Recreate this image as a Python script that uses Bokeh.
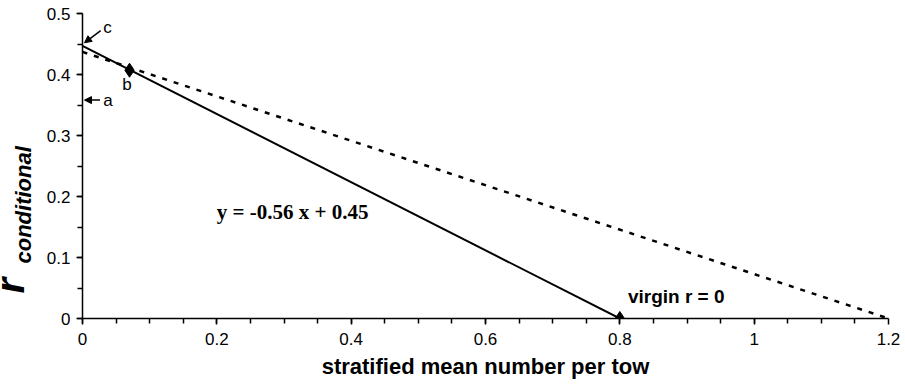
import math
from bokeh.plotting import figure
from bokeh.layouts import row
from bokeh.models import Label, Arrow, NormalHead, FixedTicker, Range1d
from bokeh.embed import file_html
from bokeh.resources import INLINE

# Data
solid_x = [0.0, 0.8]
solid_y = [0.447, 0.0]
dashed_x = [0.0, 1.2]
dashed_y = [0.437, 0.0]
point_x = [0.07, 0.8]
point_y = [0.407, 0.0]

x_ticks = [0, 0.2, 0.4, 0.6, 0.8, 1.0, 1.2]
x_tick_labels = ["0", "0.2", "0.4", "0.6", "0.8", "1", "1.2"]
y_ticks = [0, 0.1, 0.2, 0.3, 0.4, 0.5]
y_tick_labels = ["0", "0.1", "0.2", "0.3", "0.4", "0.5"]
x_minor = [i * 0.05 for i in range(25)]
y_minor = [i * 0.05 for i in range(11)]

equation = "y = -0.56 x + 0.45"
y_label_main = "r"
y_label_sub = "conditional"
x_label = "stratified mean number per tow"

FONT = "Liberation Sans"
LW = 40   # width of the y-label strip
H = 384
FRAME_H = 318 - 13   # frame height shared by both figures (frames are aligned in a row)

# Narrow strip holding the y-axis label (r with subscript); its frame is
# aligned with the main plot frame, so y is in pixels above the frame bottom.
fl = figure(width=LW, height=H, output_backend="svg", toolbar_location=None,
            x_range=Range1d(0, LW), y_range=Range1d(0, FRAME_H),
            x_axis_type=None, y_axis_type=None, min_border=0)
fl.outline_line_color = None
fl.xgrid.visible = False
fl.ygrid.visible = False
fl.add_layout(Label(x=9, y=25, text=y_label_main, angle=math.pi / 2,
                    text_font=FONT, text_font_style="bold italic", text_font_size="40px",
                    text_color="black", text_baseline="alphabetic", text_align="left"))
fl.add_layout(Label(x=23, y=55, text=y_label_sub, angle=math.pi / 2,
                    text_font=FONT, text_font_style="bold italic", text_font_size="22px",
                    text_color="black", text_baseline="alphabetic", text_align="left"))

p = figure(width=905 - LW, height=H, output_backend="svg", toolbar_location=None,
           x_range=Range1d(0, 1.2), y_range=Range1d(0, 0.5),
           min_border_left=82 - LW, min_border_right=17, min_border_top=13, min_border_bottom=66)
p.outline_line_color = None
p.xgrid.visible = False
p.ygrid.visible = False

for ax, ticks, labels, minor in ((p.xaxis[0], x_ticks, x_tick_labels, x_minor),
                                 (p.yaxis[0], y_ticks, y_tick_labels, y_minor)):
    ax.ticker = FixedTicker(ticks=ticks, minor_ticks=minor)
    ax.major_label_overrides = {t: l for t, l in zip(ticks, labels)}
    ax.axis_line_color = "black"
    ax.axis_line_width = 1.5
    ax.major_tick_line_color = "black"
    ax.major_tick_line_width = 1.5
    ax.minor_tick_line_color = "black"
    ax.minor_tick_line_width = 1.5
    ax.major_tick_out = 6
    ax.major_tick_in = 0
    ax.minor_tick_out = 5
    ax.minor_tick_in = 0
    ax.major_label_text_font = FONT
    ax.major_label_text_font_size = "17px"
    ax.major_label_text_color = "black"

p.xaxis.axis_label = x_label
p.xaxis.axis_label_text_font = FONT
p.xaxis.axis_label_text_font_style = "bold"
p.xaxis.axis_label_text_font_size = "22px"
p.xaxis.axis_label_text_color = "black"
p.xaxis.major_label_standoff = 8
p.xaxis.axis_label_standoff = 6
p.yaxis.major_label_standoff = 6

# Lines
p.line(dashed_x, dashed_y, line_color="black", line_width=2.5, line_dash="5 7")
p.line(solid_x, solid_y, line_color="black", line_width=2)
p.scatter(point_x, point_y, marker="diamond", size=14, color="black")

# Annotations
def arrow(x0, y0, x1, y1):
    p.add_layout(Arrow(end=NormalHead(size=7, fill_color="black", line_color="black"),
                       x_start=x0, y_start=y0, x_end=x1, y_end=y1,
                       line_color="black", line_width=1.5))

arrow(0.027, 0.472, 0.003, 0.452)
arrow(0.026, 0.358, 0.003, 0.358)

def label(x, y, text, size="14px", style="normal", font=FONT, baseline="middle"):
    p.add_layout(Label(x=x, y=y, text=text, text_font=font, text_font_size=size,
                       text_font_style=style, text_color="black",
                       text_baseline=baseline, text_align="left"))

label(0.031, 0.477, "c", size="17px")
label(0.031, 0.357, "a", size="17px")
label(0.059, 0.383, "b", size="17px")
label(0.812, 0.036, "virgin r = 0", size="19px", style="bold")
label(0.2, 0.174, equation, size="21px", style="bold", font="Liberation Serif")

open("out.html", "w").write(file_html(row(fl, p), INLINE))
